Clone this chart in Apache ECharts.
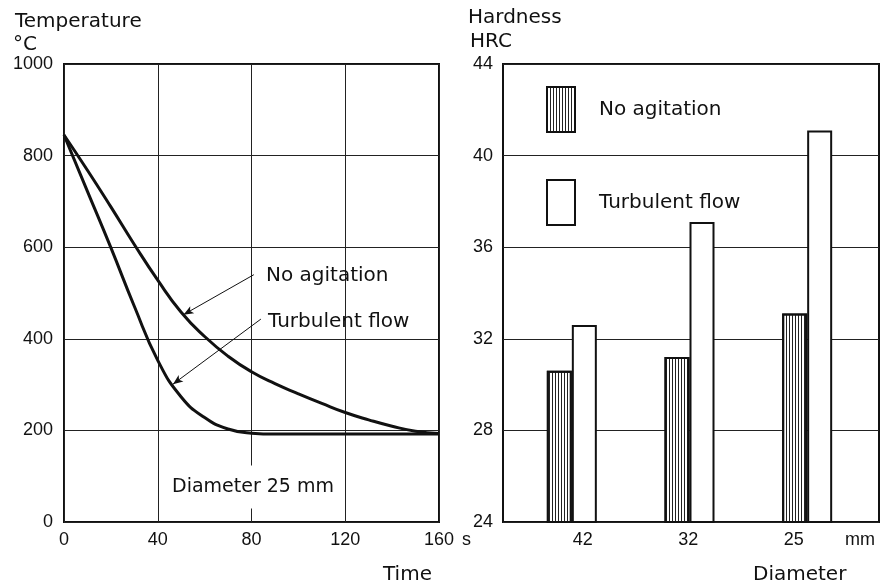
<!DOCTYPE html>
<html>
<head>
<meta charset="utf-8">
<script src="https://cdn.jsdelivr.net/npm/echarts@6/dist/echarts.min.js"></script>
<style>
html,body{margin:0;padding:0;background:#fff;}
#c{width:882px;height:585px;}
</style>
</head>
<body>
<div id="c"></div>
<script>
// ---- Data ----
const timeSec = [0,10,20,30,40,50,60,70,80,90,100,110,120,130,140,150,160];
const noAgitationTemp = [845,768,688,606,528,458,405,362,328,302,280,259,239,223,209,198,193];
const turbulentTemp   = [845,722,599,471,353,273,228,203,194,192,192,192,192,192,192,192,192];
const tempTicks = [0,200,400,600,800,1000];
const timeTicks = [0,40,80,120,160];

const diameters = ['42','32','25'];
const hardnessNoAgitation = [30.6,31.2,33.1];
const hardnessTurbulent   = [32.6,37.1,41.1];
const hardnessTicks = [24,28,32,36,40,44];

// ---- Styles ----
const INK = '#111';
const WORD_FONT = '"DejaVu Sans", sans-serif';
const NUM_FONT = '"Liberation Sans", Arial, sans-serif';

function zip(xs, ys){ return xs.map((x,i)=>[x, ys[i]]); }
function interpAt(xs, ys, t){
  for (let i=0;i<xs.length-1;i++){
    if (t>=xs[i] && t<=xs[i+1]) {
      const f=(t-xs[i])/(xs[i+1]-xs[i]);
      return ys[i]+f*(ys[i+1]-ys[i]);
    }
  }
  return ys[ys.length-1];
}

const chart = echarts.init(document.getElementById('c'), null, {renderer:'canvas'});

const numLabel = {color: INK, fontFamily: NUM_FONT, fontSize: 18, formatter: v => String(v)};
const splitLine = {show:true, lineStyle:{color:'#222', width:1}};

const hatch = {
  symbol:'rect', symbolSize:1,
  dashArrayX:[1,2], dashArrayY:[1,0],
  rotation:0, color:'#222'
};

function wtext(x, y, text, size, extra){
  return Object.assign({
    type:'text', x:x, y:y, z:100,
    style:{text:text, font: (size||20)+'px '+WORD_FONT, fill:INK, align:'left', verticalAlign:'middle'}
  }, extra||{});
}

const option = {
  animation:false,
  backgroundColor:'#fff',
  grid:[
    {left:64, right:443, top:64, bottom:63, show:true, borderColor:INK, borderWidth:2, backgroundColor:'transparent'},
    {left:503, right:3, top:64, bottom:63, show:true, borderColor:INK, borderWidth:2, backgroundColor:'transparent'},
    {left:513, right:16, top:64, bottom:63},
    {left:530, right:35.5, top:64, bottom:63}
  ],
  xAxis:[
    {gridIndex:0, type:'value', min:timeTicks[0], max:timeTicks[timeTicks.length-1], interval:40,
     axisLine:{show:false}, axisTick:{show:false}, splitLine:splitLine,
     axisLabel:Object.assign({margin:9}, numLabel)},
    {gridIndex:1, type:'value', min:0, max:1, show:false},
    {gridIndex:2, type:'category', data:diameters, show:false},
    {gridIndex:3, type:'category', data:diameters,
     axisLine:{show:false}, axisTick:{show:false}, splitLine:{show:false},
     axisLabel:{margin:9, color:INK, fontFamily:NUM_FONT, fontSize:18}}
  ],
  yAxis:[
    {gridIndex:0, type:'value', min:tempTicks[0], max:tempTicks[tempTicks.length-1], interval:200,
     axisLine:{show:false}, axisTick:{show:false}, splitLine:splitLine,
     axisLabel:Object.assign({margin:11}, numLabel)},
    {gridIndex:1, type:'value', min:hardnessTicks[0], max:hardnessTicks[hardnessTicks.length-1], interval:4,
     axisLine:{show:false}, axisTick:{show:false}, splitLine:splitLine,
     axisLabel:Object.assign({margin:10}, numLabel)},
    {gridIndex:2, type:'value', min:hardnessTicks[0], max:hardnessTicks[hardnessTicks.length-1], show:false},
    {gridIndex:3, type:'value', min:0, max:1, show:false}
  ],
  legend:{
    data:['No agitation','Turbulent flow'],
    orient:'vertical', left:541, top:81,
    icon:'rect', itemWidth:28, itemHeight:45, itemGap:46,
    selectedMode:false,
    textStyle:{color:INK, fontFamily:WORD_FONT, fontSize:20, padding:[0,0,8,19]}
  },
  series:[
    {
      name:'No agitation curve', type:'line', xAxisIndex:0, yAxisIndex:0,
      data: zip(timeSec, noAgitationTemp), smooth:0.5, showSymbol:false, symbol:'none',
      lineStyle:{color:INK, width:3}, z:5,
      markLine:{
        silent:true, symbol:['none','arrow'], symbolSize:[6,10],
        lineStyle:{color:INK, width:1, type:'solid'}, label:{show:false},
        data:[[{coord:[81,540]},{coord:[51, interpAt(timeSec,noAgitationTemp,51)]}]]
      }
    },
    {
      name:'Turbulent flow curve', type:'line', xAxisIndex:0, yAxisIndex:0,
      data: zip(timeSec, turbulentTemp), smooth:0.5, showSymbol:false, symbol:'none',
      lineStyle:{color:INK, width:3}, z:5,
      markLine:{
        silent:true, symbol:['none','arrow'], symbolSize:[6,10],
        lineStyle:{color:INK, width:1, type:'solid'}, label:{show:false},
        data:[[{coord:[84,443]},{coord:[46.5, interpAt(timeSec,turbulentTemp,46.5)]}]]
      }
    },
    {
      name:'No agitation', type:'bar', xAxisIndex:2, yAxisIndex:2,
      data: hardnessNoAgitation, barWidth:25, barGap:'0%',
      itemStyle:{color:'#fff', borderColor:INK, borderWidth:2, decal:hatch}
    },
    {
      name:'Turbulent flow', type:'bar', xAxisIndex:2, yAxisIndex:2,
      data: hardnessTurbulent, barWidth:25, barGap:'0%',
      itemStyle:{color:'#fff', borderColor:INK, borderWidth:2}
    }
  ],
  graphic:[
    wtext(15, 22, 'Temperature'),
    wtext(13, 45, '°C'),
    wtext(468, 18, 'Hardness'),
    wtext(470, 42, 'HRC'),
    wtext(383, 575, 'Time'),
    wtext(753, 575, 'Diameter'),
    {type:'text', x:462, y:540, z:100, style:{text:'s', font:'18px '+NUM_FONT, fill:INK, verticalAlign:'middle'}},
    {type:'text', x:845, y:540, z:100, style:{text:'mm', font:'18px '+NUM_FONT, fill:INK, verticalAlign:'middle'}},
    wtext(266, 276, 'No agitation'),
    wtext(268, 322, 'Turbulent flow'),
    {type:'text', x:168, y:487, z:100,
     style:{text:'Diameter 25 mm', font:'19px '+WORD_FONT, fill:INK, verticalAlign:'middle',
            backgroundColor:'#fff', padding:[12,4,12,4]}}
  ]
};
chart.setOption(option);
</script>
</body>
</html>
